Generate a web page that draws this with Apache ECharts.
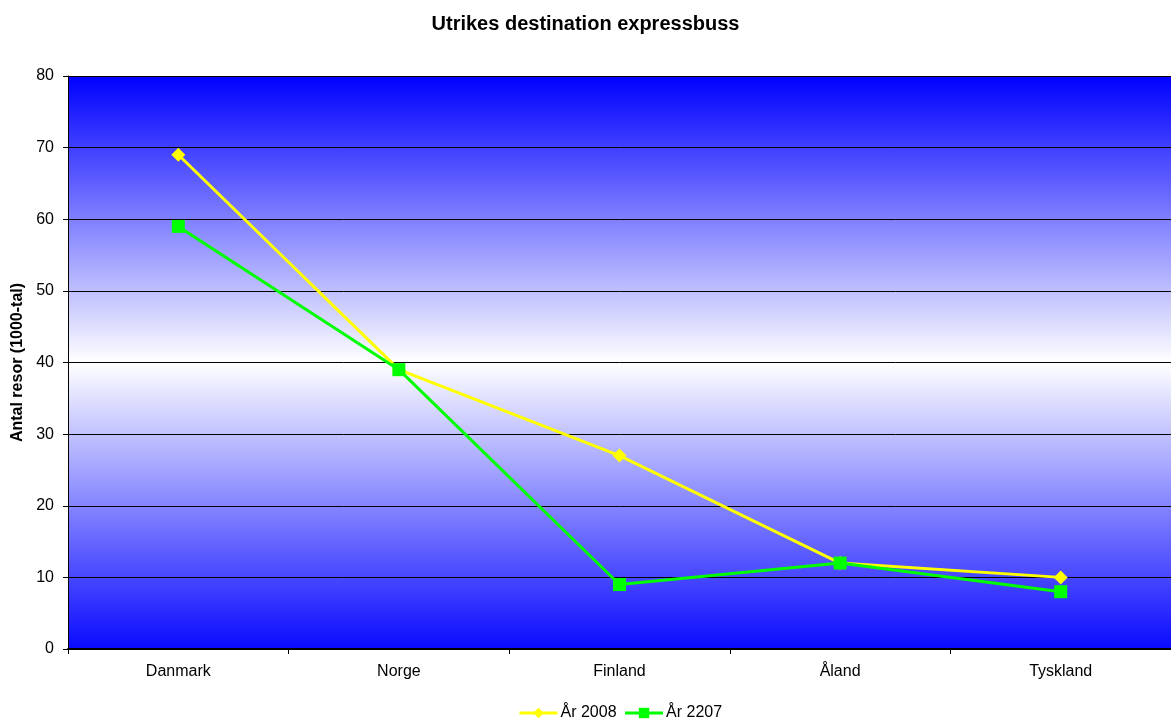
<!DOCTYPE html>
<html>
<head>
<meta charset="utf-8">
<script src="https://cdn.jsdelivr.net/npm/echarts@6/dist/echarts.min.js"></script>
<style>
html,body{margin:0;padding:0;background:#fff;}
#chart{width:1171px;height:721px;}
</style>
</head>
<body>
<div id="chart"></div>
<script>
const categories = ['Danmark', 'Norge', 'Finland', 'Åland', 'Tyskland'];
const series2008 = [69, 39, 27, 12, 10];
const series2207 = [59, 39, 9, 12, 8];
const seriesNames = ['År 2008', 'År 2207'];

const chart = echarts.init(document.getElementById('chart'));
const font = 'Liberation Sans, Arial, sans-serif';
chart.setOption({
  animation: false,
  backgroundColor: '#ffffff',
  title: {
    text: 'Utrikes destination expressbuss',
    left: 'center',
    top: 9,
    textStyle: {fontFamily: font, fontSize: 20, fontWeight: 'bold', color: '#000'}
  },
  legend: {
    bottom: 0,
    left: 518,
    padding: 0,
    itemWidth: 38,
    itemHeight: 13,
    itemGap: 7,
    lineStyle: {width: 3},
    textStyle: {fontFamily: font, fontSize: 16, color: '#000', padding: [0,0,0,-2]},
    data: seriesNames
  },
  grid: {
    left: 68,
    top: 76,
    width: 1108,
    bottom: 72,
    containLabel: false,
    show: true,
    borderWidth: 0,
    backgroundColor: new echarts.graphic.LinearGradient(0, 0, 0, 1, [
      {offset: 0, color: '#0000FF'},
      {offset: 0.5, color: '#FFFFFF'},
      {offset: 1, color: '#0A0AFF'}
    ])
  },
  xAxis: {
    type: 'category',
    data: categories,
    boundaryGap: true,
    axisLine: {lineStyle: {color: '#000', width: 2}},
    axisTick: {show: true, length: 5, lineStyle: {color: '#000'}},
    axisLabel: {fontFamily: font, fontSize: 16, color: '#000', margin: 15}
  },
  yAxis: {
    type: 'value',
    min: 0,
    max: 80,
    interval: 10,
    name: 'Antal resor (1000-tal)',
    nameLocation: 'middle',
    nameGap: 40,
    nameTextStyle: {fontFamily: font, fontSize: 16, fontWeight: 'bold', color: '#000'},
    axisLine: {show: true, lineStyle: {color: '#000', width: 1}},
    axisTick: {show: true, length: 5, lineStyle: {color: '#000'}},
    axisLabel: {fontFamily: font, fontSize: 16, color: '#000', margin: 14},
    splitLine: {show: true, lineStyle: {color: '#000', width: 1}}
  },
  series: [
    {
      name: seriesNames[0],
      type: 'line',
      data: series2008,
      symbol: 'diamond',
      symbolSize: 14,
      lineStyle: {color: '#FFFF00', width: 3},
      itemStyle: {color: '#FFFF00'},
      z: 3
    },
    {
      name: seriesNames[1],
      type: 'line',
      data: series2207,
      symbol: 'rect',
      symbolSize: 13,
      lineStyle: {color: '#00FF00', width: 3},
      itemStyle: {color: '#00FF00'},
      z: 4
    }
  ]
});
</script>
</body>
</html>
